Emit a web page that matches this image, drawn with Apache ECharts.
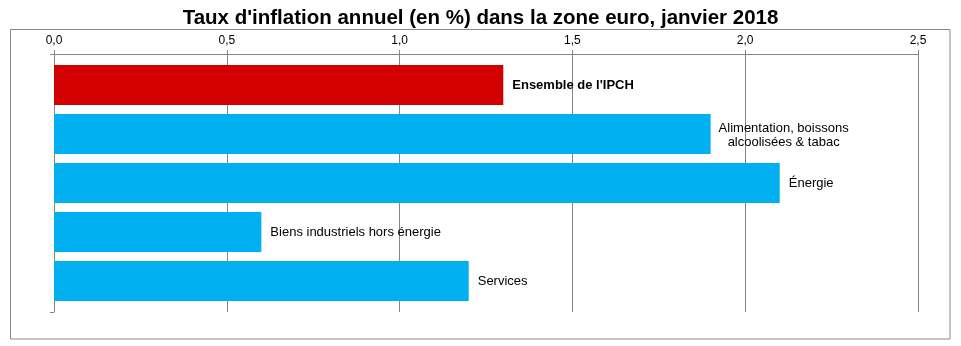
<!DOCTYPE html>
<html><head><meta charset="utf-8">
<script src="https://cdn.jsdelivr.net/npm/echarts@6/dist/echarts.min.js"></script>
<style>html,body{margin:0;padding:0;background:#fff}#c{width:961px;height:346px}</style>
</head><body><div id="c"></div>
<script>
const title = "Taux d'inflation annuel (en %) dans la zone euro, janvier 2018";
const categories = ["Ensemble de l'IPCH", "Alimentation, boissons\nalcoolisées & tabac", "Énergie", "Biens industriels hors énergie", "Services"];
const values = [1.3, 1.9, 2.1, 0.6, 1.2];
const barColors = ["#D20000", "#00B0F0", "#00B0F0", "#00B0F0", "#00B0F0"];
const axisMin = 0, axisMax = 2.5, axisStep = 0.5;

const chart = echarts.init(document.getElementById('c'), null, {renderer: 'canvas'});
const font = 'Arial, "Liberation Sans", sans-serif';
const gridColor = '#868686';

const barData = values.map((v, i) => {
  const d = {value: v, itemStyle: {color: barColors[i]}};
  if (i === 0) d.label = {fontWeight: 'bold'};
  if (categories[i].indexOf('\n') >= 0) d.label = {align: 'center', offset: [64, 1]};
  return d;
});

chart.setOption({
  animation: false,
  backgroundColor: '#fff',
  title: {
    text: title, left: 'center', top: 3,
    textStyle: {fontFamily: font, fontSize: 20.5, fontWeight: 'bold', color: '#000'}
  },
  graphic: [{
    type: 'rect', shape: {x: 10.5, y: 29.5, width: 939.5, height: 309.5},
    style: {fill: 'none', stroke: '#888', lineWidth: 1}, z: -1
  }],
  grid: [
    {left: 54, right: 43, top: 54, bottom: 34, containLabel: false},
    {left: 54, right: 43, top: 60.5, height: 245, containLabel: false}
  ],
  xAxis: [
    {
      gridIndex: 0, type: 'value', position: 'top', min: axisMin, max: axisMax, interval: axisStep,
      axisLine: {show: true, lineStyle: {color: gridColor, width: 1}},
      axisTick: {show: true, length: 4, lineStyle: {color: gridColor}},
      splitLine: {show: true, lineStyle: {color: gridColor, width: 1}},
      axisLabel: {
        margin: 7, fontFamily: font, fontSize: 12, color: '#000',
        formatter: v => v.toFixed(1).replace('.', ',')
      }
    },
    {
      gridIndex: 1, type: 'value', min: axisMin, max: axisMax, show: false
    }
  ],
  yAxis: [
    {
      gridIndex: 0, type: 'category', data: [''],
      axisLine: {show: true, lineStyle: {color: gridColor, width: 1}},
      axisTick: {show: true, length: 4, lineStyle: {color: gridColor}},
      axisLabel: {show: false}, splitLine: {show: false}
    },
    {
      gridIndex: 1, type: 'category', data: categories, inverse: true, show: false
    }
  ],
  series: [{
    type: 'bar', xAxisIndex: 1, yAxisIndex: 1, data: barData, barWidth: 40,
    label: {
      show: true, position: 'right', distance: 9, color: '#000',
      fontFamily: font, fontSize: 13, lineHeight: 14,
      formatter: p => categories[p.dataIndex]
    },
    z: 1
  }]
});
</script></body></html>
